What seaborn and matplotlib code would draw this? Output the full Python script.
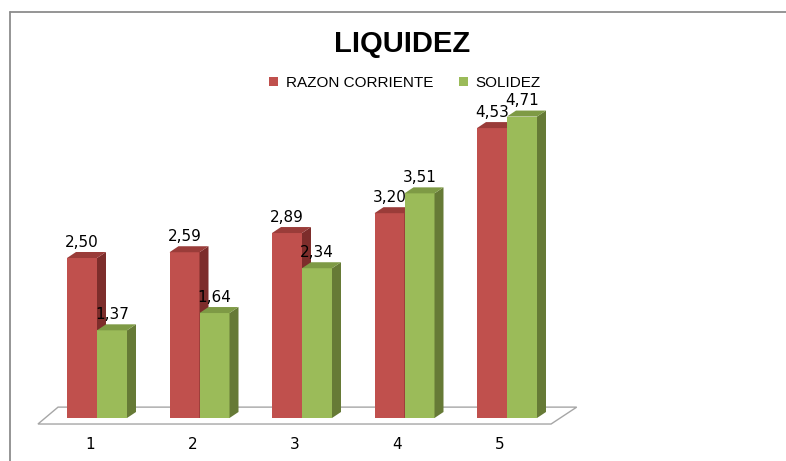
import numpy as np
import pandas as pd
import matplotlib
matplotlib.use("Agg")
import matplotlib.pyplot as plt
import matplotlib.transforms as mtransforms
from matplotlib.patches import Polygon
from matplotlib.lines import Line2D
import seaborn as sns

# Datos del grafico
anios = ["1", "2", "3", "4", "5"]
razon_corriente = [2.50, 2.59, 2.89, 3.20, 4.53]
solidez = [1.37, 1.64, 2.34, 3.51, 4.71]
series = ["RAZON CORRIENTE", "SOLIDEZ"]

colores = {"RAZON CORRIENTE": "#C0504D", "SOLIDEZ": "#9BBB59"}
lado = {"RAZON CORRIENTE": "#7D2D2B", "SOLIDEZ": "#667A36"}
techo = {"RAZON CORRIENTE": "#9A3C39", "SOLIDEZ": "#7E9A45"}

dados = pd.DataFrame({
    "anio": anios * 2,
    "valor": razon_corriente + solidez,
    "serie": [series[0]] * len(anios) + [series[1]] * len(anios),
})

sns.set_style("white")
plt.rcParams["text.color"] = "black"
plt.rcParams["xtick.color"] = "black"
fig = plt.figure(figsize=(7.86, 4.61), dpi=100)

# ejes colocados en pixeles: x 0 -> 97px, 1 unidad = 102.5px ; y 0 -> 418px, 1 unidad = 64px
W, H = 786, 461
xlim = (-0.75, 4.75)
ylim = (-0.1, 5.0)
px_x, px_y = 102.5, 64.0
left = 97 + xlim[0] * px_x
right = 97 + xlim[1] * px_x
bottom = 418 - ylim[0] * px_y
top = 418 - ylim[1] * px_y
ax = fig.add_axes([left / W, (H - bottom) / H, (right - left) / W, (bottom - top) / H])

sns.barplot(data=dados, x="anio", y="valor", hue="serie", palette=colores,
            width=60 / 102.5, dodge=True, gap=0, ax=ax, legend=True,
            linewidth=0, saturation=1)
ax.set_xlim(*xlim)
ax.set_ylim(*ylim)
ax.set(xlabel="", ylabel="")
ax.set_yticks([])
for s in ax.spines.values():
    s.set_visible(False)
ax.tick_params(axis="x", length=0, pad=9, labelsize=11, labelcolor="black")
# en el original las etiquetas quedan un poco a la izquierda (perspectiva)
corrimiento = mtransforms.ScaledTranslation(-7 / 100, 0, fig.dpi_scale_trans)
for lbl in ax.get_xticklabels():
    lbl.set_transform(lbl.get_transform() + corrimiento)

# piso en perspectiva
piso = Polygon([(-0.576, -0.094), (4.43, -0.094), (4.68, 0.17), (-0.38, 0.17)],
               closed=True, facecolor="white", edgecolor="#a6a6a6", lw=1.0,
               zorder=0.5, clip_on=False)
ax.add_patch(piso)

# efecto 3D y etiquetas
dx = 9 / px_x
dy = 6 / px_y
barras = [p for p in ax.patches if p is not piso and p.get_height() > 0]
for i, p in enumerate(barras):
    serie = series[0] if i < len(anios) else series[1]
    z = 2 if serie == series[0] else 3
    p.set_zorder(z)
    x0, w, h = p.get_x(), p.get_width(), p.get_height()
    ax.add_patch(Polygon([(x0 + w, 0), (x0 + w + dx, dy), (x0 + w + dx, h + dy), (x0 + w, h)],
                         closed=True, facecolor=lado[serie], lw=0, zorder=z + 0.1))
    ax.add_patch(Polygon([(x0, h), (x0 + dx, h + dy), (x0 + w + dx, h + dy), (x0 + w, h)],
                         closed=True, facecolor=techo[serie], lw=0, zorder=z + 0.1))
    ax.annotate(f"{h:.2f}".replace(".", ","), (x0 + w / 2, h), xytext=(0, 6),
                textcoords="offset points", ha="center", va="bottom",
                fontsize=11, color="black", zorder=5)

# leyenda
handles, labels = ax.get_legend_handles_labels()
ax.legend(handles, labels, loc="center", bbox_to_anchor=(405 / W, 1 - 83 / H),
          bbox_transform=fig.transFigure, ncol=2, frameon=False,
          handlelength=0.6, handleheight=0.6, handletextpad=0.5,
          columnspacing=1.7, prop={"family": ["Liberation Sans", "DejaVu Sans"], "size": 11})

fig.text(402 / W, 1 - 44 / H, "LIQUIDEZ", ha="center", va="center",
         fontsize=21, fontweight="bold", family=["Liberation Sans", "DejaVu Sans"])

# marco del area del grafico
fig.add_artist(Line2D([10 / W, 1], [1 - 12.5 / H, 1 - 12.5 / H], transform=fig.transFigure,
                      color="#8c8c8c", lw=1.3))
fig.add_artist(Line2D([10 / W, 10 / W], [1 - 12.5 / H, 0], transform=fig.transFigure,
                      color="#8c8c8c", lw=1.3))

fig.savefig("out.png", dpi=100)
